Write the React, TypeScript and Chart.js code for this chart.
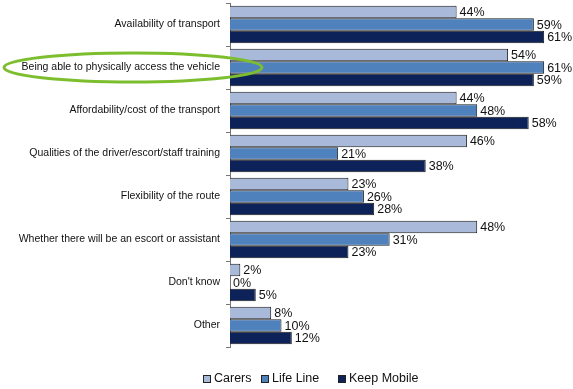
import React, { useEffect, useRef } from "react";
import { Chart, registerables } from "chart.js";

Chart.register(...registerables);

const categories = [
  "Availability of transport",
  "Being able to physically access the vehicle",
  "Affordability/cost of the transport",
  "Qualities of the driver/escort/staff training",
  "Flexibility of the route",
  "Whether there will be an escort or assistant",
  "Don't know",
  "Other",
];
const seriesNames = ["Carers", "Life Line", "Keep Mobile"];
const carers = [44, 54, 44, 46, 23, 48, 2, 8];
const lifeLine = [59, 61, 48, 21, 26, 31, 0, 10];
const keepMobile = [61, 59, 58, 38, 28, 23, 5, 12];
const colors = ["#A9B9D9", "#4F81BD", "#0D2259"];

const FONT = "'Liberation Sans', Arial, sans-serif";

const overlay = {
  id: "overlay",
  afterDatasetsDraw(chart: any) {
    const ctx = chart.ctx;
    ctx.save();
    // data labels
    ctx.font = `12.5px ${FONT}`;
    ctx.fillStyle = "#111";
    ctx.textAlign = "left";
    ctx.textBaseline = "middle";
    chart.data.datasets.forEach((ds: any, di: number) => {
      const meta = chart.getDatasetMeta(di);
      meta.data.forEach((bar: any, i: number) => {
        ctx.fillText(ds.data[i] + "%", bar.x + 3, bar.y + 1);
      });
    });
    // highlight ellipse around second category label
    const yScale = chart.scales.y;
    const cy = yScale.getPixelForValue(1);
    ctx.strokeStyle = "#7DBE2E";
    ctx.lineWidth = 3;
    ctx.beginPath();
    ctx.ellipse(133, cy, 129, 14.5, 0, 0, Math.PI * 2);
    ctx.stroke();
    // legend
    const items = chart.data.datasets.map((d: any) => d.label);
    const xs = [203, 261, 338];
    const ly = 379;
    ctx.font = `12.5px ${FONT}`;
    ctx.textBaseline = "middle";
    items.forEach((t: string, i: number) => {
      ctx.fillStyle = colors[i];
      ctx.fillRect(xs[i], ly - 4, 8, 8);
      ctx.strokeStyle = "#222";
      ctx.lineWidth = 1;
      ctx.strokeRect(xs[i] + 0.5, ly - 3.5, 7, 7);
      ctx.fillStyle = "#111";
      ctx.fillText(t, xs[i] + 11, ly);
    });
    ctx.restore();
  },
};

export default function App() {
  const ref = useRef<HTMLCanvasElement>(null);
  useEffect(() => {
    document.body.style.margin = "0";
    const chart = new Chart(ref.current!, {
      type: "bar",
      data: {
        labels: categories,
        datasets: [carers, lifeLine, keepMobile].map((d, i) => ({
          label: seriesNames[i],
          data: d,
          backgroundColor: colors[i],
          borderColor: "#1a1a1a",
          borderWidth: 1,
          categoryPercentage: 0.87,
          barPercentage: 1,
        })),
      },
      options: {
        indexAxis: "y",
        animation: false,
        responsive: false,
        maintainAspectRatio: false,
        layout: { padding: { top: 3, bottom: 42, left: 0, right: 0 } },
        plugins: { legend: { display: false }, tooltip: { enabled: false } },
        scales: {
          x: { display: false, min: 0, max: 66.6 },
          y: {
            afterFit: (s: any) => {
              s.width = 230;
              s.paddingTop = 0;
              s.paddingBottom = 0;
            },
            grid: {
              offset: true,
              drawOnChartArea: false,
              drawTicks: true,
              tickLength: 4,
              color: "#777",
            },
            border: { display: true, color: "#777", width: 1 },
            ticks: {
              color: "#111",
              font: { family: FONT, size: 10.5 },
              padding: 6,
            },
          },
        },
      },
      plugins: [overlay],
    });
    return () => chart.destroy();
  }, []);
  return (
    <div style={{ width: 573, height: 389, background: "#fff" }}>
      <canvas ref={ref} width={573} height={389} />
    </div>
  );
}
